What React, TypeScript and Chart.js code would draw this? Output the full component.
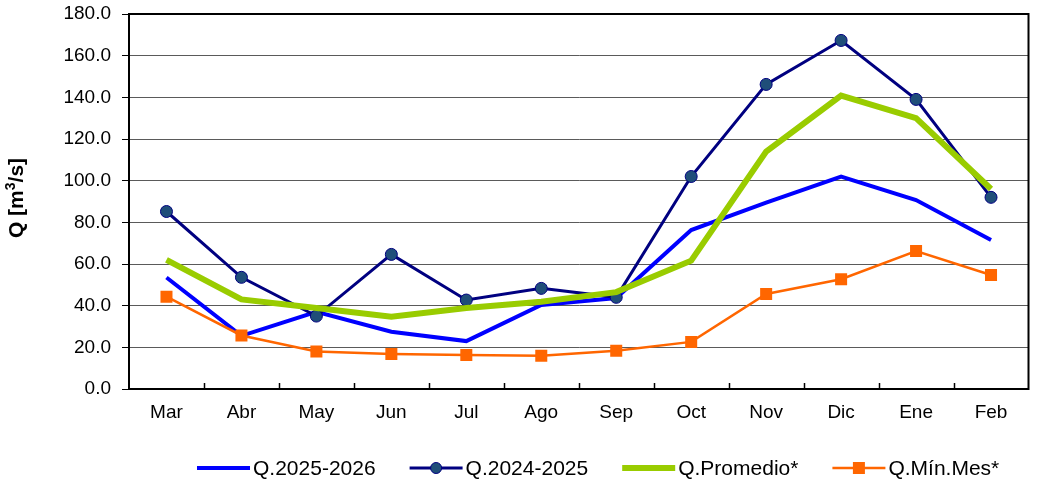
import React, { useEffect, useRef } from "react";
import { Chart, registerables } from "chart.js";

Chart.register(...registerables);

const categories = ["Mar", "Abr", "May", "Jun", "Jul", "Ago", "Sep", "Oct", "Nov", "Dic", "Ene", "Feb"];
const q20252026 = [53.5, 25.5, 37, 27.5, 23, 40.3, 43.7, 76.3, 89.5, 101.9, 90.7, 71.5];
const q20242025 = [85.2, 53.6, 35, 64.6, 42.7, 48.3, 44, 102, 146.2, 167.3, 139, 92];
const qPromedio = [62, 43, 38.9, 34.7, 38.9, 41.9, 46.5, 61.6, 114, 140.8, 130, 96];
const qMinMes = [44.3, 25.7, 18, 16.8, 16.3, 16, 18.4, 22.6, 45.6, 52.7, 66.2, 54.7];
const seriesNames = ["Q.2025-2026", "Q.2024-2025", "Q.Promedio*", "Q.Mín.Mes*"];
const yTicks = [0, 20, 40, 60, 80, 100, 120, 140, 160, 180];

const FONT = "'Liberation Sans', Arial, sans-serif";

const styles = [
  { color: "#0000FF", width: 4, point: "none" },
  { color: "#000080", width: 3, point: "circle" },
  { color: "#99CC00", width: 6, point: "none" },
  { color: "#FF6600", width: 2.5, point: "rect" },
];

const decorPlugin = {
  id: "decor",
  beforeDatasetsDraw(chart: any) {
    const { ctx, chartArea } = chart;
    const xs = chart.scales.x;
    ctx.save();
    ctx.strokeStyle = "#000";
    ctx.lineWidth = 2;
    ctx.strokeRect(chartArea.left, chartArea.top, chartArea.right - chartArea.left, chartArea.bottom - chartArea.top);
    ctx.lineWidth = 1.5;
    for (let i = 1; i < categories.length; i++) {
      const x = Math.round((xs.getPixelForValue(i - 1) + xs.getPixelForValue(i)) / 2) + 0.5;
      ctx.beginPath();
      ctx.moveTo(x, chartArea.bottom);
      ctx.lineTo(x, chartArea.bottom - 6);
      ctx.stroke();
    }
    ctx.restore();
  },
  afterDraw(chart: any) {
    const { ctx } = chart;
    // y title
    ctx.save();
    ctx.translate(17, 198);
    ctx.rotate(-Math.PI / 2);
    ctx.fillStyle = "#000";
    ctx.textBaseline = "middle";
    ctx.textAlign = "left";
    ctx.font = `bold 21px ${FONT}`;
    const w1 = ctx.measureText("Q [m").width;
    const w4 = ctx.measureText("/s]").width;
    ctx.font = `bold 14px ${FONT}`;
    const w3 = ctx.measureText("3").width;
    const total = w1 + w3 + w4;
    const x0 = -total / 2;
    ctx.font = `bold 21px ${FONT}`;
    ctx.fillText("Q [m", x0, 0);
    ctx.font = `bold 14px ${FONT}`;
    ctx.fillText("3", x0 + w1, -6);
    ctx.font = `bold 21px ${FONT}`;
    ctx.fillText("/s]", x0 + w1 + w3, 0);
    ctx.restore();

    // legend
    ctx.save();
    ctx.font = `21px ${FONT}`;
    ctx.textBaseline = "middle";
    ctx.fillStyle = "#000";
    const y = 468;
    let x = 197;
    const lineLen = 53;
    for (let i = 0; i < seriesNames.length; i++) {
      const s = styles[i];
      ctx.strokeStyle = s.color;
      ctx.lineWidth = s.width;
      ctx.beginPath();
      ctx.moveTo(x, y);
      ctx.lineTo(x + lineLen, y);
      ctx.stroke();
      const cx = x + lineLen / 2;
      if (s.point === "circle") {
        ctx.beginPath();
        ctx.arc(cx, y, 5.5, 0, Math.PI * 2);
        ctx.fillStyle = "#1F4E79";
        ctx.fill();
        ctx.lineWidth = 1;
        ctx.strokeStyle = "#000080";
        ctx.stroke();
      } else if (s.point === "rect") {
        ctx.fillStyle = s.color;
        ctx.fillRect(cx - 6, y - 6, 12, 12);
      }
      ctx.fillStyle = "#000";
      ctx.fillText(seriesNames[i], x + lineLen + 3, y + 1);
      x += lineLen + 3 + ctx.measureText(seriesNames[i]).width + 34;
    }
    ctx.restore();
  },
};

export default function App() {
  const ref = useRef<HTMLCanvasElement | null>(null);
  useEffect(() => {
    document.body.style.margin = "0";
    const canvas = ref.current!;
    const data = [q20252026, q20242025, qPromedio, qMinMes];
    const chart = new Chart(canvas, {
      type: "line",
      data: {
        labels: categories,
        datasets: data.map((d, i) => ({
          label: seriesNames[i],
          data: d,
          borderColor: styles[i].color,
          backgroundColor: styles[i].point === "circle" ? "#1F4E79" : styles[i].color,
          borderWidth: styles[i].width,
          pointRadius: styles[i].point === "none" ? 0 : styles[i].point === "circle" ? 6 : 8.5,
          pointStyle: styles[i].point === "rect" ? "rect" : "circle",
          pointBorderWidth: styles[i].point === "circle" ? 1 : 0,
          pointBorderColor: "#000080",
          pointBackgroundColor: styles[i].point === "circle" ? "#1F4E79" : styles[i].color,
          tension: 0,
          order: 4 - i,
        })),
      },
      options: {
        animation: false,
        responsive: false,
        maintainAspectRatio: false,
        layout: { padding: { left: 0, right: 4, top: 14, bottom: 0 } },
        plugins: { legend: { display: false }, tooltip: { enabled: false } },
        scales: {
          x: {
            offset: true,
            grid: { display: false, drawTicks: false },
            border: { display: true, color: "#000", width: 2 },
            ticks: { color: "#000", font: { family: FONT, size: 19 }, padding: 12, maxRotation: 0, autoSkip: false },
            afterFit(scale: any) {
              scale.height = 93;
              scale.paddingLeft = 0;
              scale.paddingRight = 0;
            },
          },
          y: {
            min: 0,
            max: 180,
            afterBuildTicks(scale: any) { scale.ticks = yTicks.map((v) => ({ value: v })); },
            grid: { color: "#5a5a5a", lineWidth: 1, tickLength: 7, tickColor: "#000" },
            border: { display: true, color: "#000", width: 2 },
            ticks: {
              color: "#000",
              font: { family: FONT, size: 19 },
              padding: 11,
              callback: (v: any) => Number(v).toFixed(1),
            },
            afterFit(scale: any) {
              scale.width = 129;
              scale.paddingTop = 0;
              scale.paddingBottom = 0;
            },
          },
        },
      },
      plugins: [decorPlugin],
    });
    return () => chart.destroy();
  }, []);
  return <canvas ref={ref} width={1037} height={482} style={{ display: "block", width: 1037, height: 482 }} />;
}
